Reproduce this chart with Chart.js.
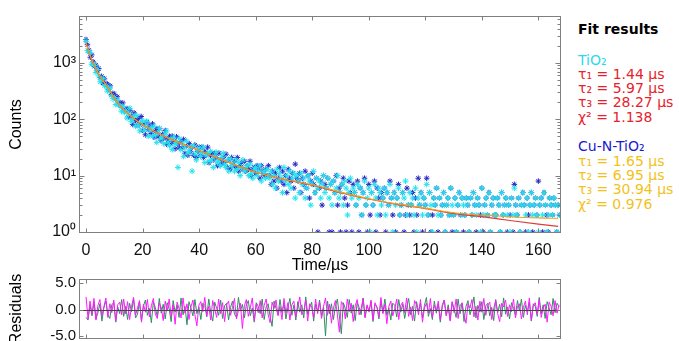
<!DOCTYPE html>
<html><head><meta charset="utf-8">
<script src="https://cdn.jsdelivr.net/npm/chart.js@4.4.1/dist/chart.umd.min.js"></script>
<style>
html,body{margin:0;padding:0;background:#fff;width:679px;height:341px;overflow:hidden;position:relative;}
#main{position:absolute;left:0;top:0;}
#resid{position:absolute;left:0;top:262px;}
.t{position:absolute;left:578px;font-family:"DejaVu Sans",Verdana,sans-serif;font-size:14px;line-height:16px;white-space:nowrap;}
</style></head><body>
<canvas id="main" width="570" height="275"></canvas>
<canvas id="resid" width="570" height="100"></canvas>
<div class="t" style="top:21px;font-weight:bold;color:#000">Fit results</div>
<div class="t" style="top:52px;color:#2fd9ea">TiO₂</div>
<div class="t" style="top:66px;color:#e8202a">τ₁ = 1.44 µs</div>
<div class="t" style="top:80px;color:#e8202a">τ₂ = 5.97 µs</div>
<div class="t" style="top:94px;color:#e8202a">τ₃ = 28.27 µs</div>
<div class="t" style="top:109px;color:#e8202a">χ² = 1.138</div>
<div class="t" style="top:138px;color:#1a1acc">Cu-N-TiO₂</div>
<div class="t" style="top:153px;color:#f2c21b">τ₁ = 1.65 µs</div>
<div class="t" style="top:167px;color:#f2c21b">τ₂ = 6.95 µs</div>
<div class="t" style="top:181px;color:#f2c21b">τ₃ = 30.94 µs</div>
<div class="t" style="top:196px;color:#f2c21b">χ² = 0.976</div>
<script>
// ---- data ----
const CHANNEL_US = 0.5;   // time per channel of the decay histograms
const tio2Counts = [
2420,1660,1545,1495,946,940,900,676,762,585,462,520,524,395,390,317,360,357,266,232,242,183,220,180,173,139,170,132,144,105,
124,157,92,99,116,76,116,78,62,88,94,64,76,92,50,65,72,50,75,53,39,58,69,45,49,37,54,62,39,34,45,29,48,36,38,14,45,29,38,22,32,41,25,27,32,12,34,24,19,28,
31,22,26,32,17,23,25,18,27,19,14,22,26,17,19,15,21,25,16,14,19,12,20,15,16,12,19,13,17,10,14,19,12,13,15,10,16,11,9,13,14,10,12,15,8,11,12,9,13,10,
9,12,7,10,6,13,8,11,9,5,14,8,10,7,12,6,9,11,4,10,
8,5,11,7,9,4,6,10,8,3,7,12,5,9,6,8,4,7,10,5,
6,9,4,7,3,8,5,6,10,4,5,7,3,8,6,2,5,9,4,6,
5,3,7,4,6,2,5,8,3,4,6,1,5,3,7,4,2,6,5,3,
4,6,2,5,3,7,4,1,5,3,4,6,2,3,5,4,8,2,3,5,
3,4,2,6,1,4,3,5,2,4,3,7,2,5,3,1,4,3,6,2,
4,2,3,5,1,3,4,2,6,3,2,4,1,3,5,2,4,3,2,4,
3,1,4,2,5,3,2,4,3,1,6,2,3,4,2,5,1,3,4,2,
2,4,3,1,5,2,3,4,2,3,1,4,2,6,3,2,4,1,3,5,
3,2,4,1,3,5,2,3,4,2,1,3,4,2,5,3,1,2,4,3,
2,4,3,1,3,2];
const cuCounts = [
2600,2100,1680,1260,1390,1045,870,911,725,792,550,578,440,522,420,424,341,392,274,288,278,227,251,187,198,172,195,139,150,155,
109,144,114,81,130,95,78,103,80,112,64,82,53,89,66,76,56,83,48,61,68,49,68,42,54,46,63,36,43,50,37,50,41,30,49,36,31,40,31,44,25,33,23,37,27,32,23,35,21,27,
32,23,32,21,27,23,32,17,23,25,19,25,21,15,25,19,16,21,17,24,14,19,13,21,15,18,14,21,12,15,17,13,18,12,15,13,18,10,13,14,11,15,13,9,15,12,10,13,10,15,
10,7,12,8,11,6,9,14,8,12,7,10,5,13,9,8,11,6,16,9,
8,11,5,9,7,12,6,10,4,8,11,7,5,9,1,6,8,3,10,7,
6,9,1,7,1,8,5,10,3,6,1,7,9,4,1,3,8,5,1,7,
5,3,8,1,6,2,5,9,3,1,7,2,5,3,8,1,6,4,2,5,
4,6,1,5,3,8,4,2,5,1,4,7,2,3,5,1,2,6,3,2,
3,5,1,4,2,9,3,5,1,4,3,9,2,5,1,2,4,3,6,1,
4,2,3,5,1,3,4,2,6,1,2,4,1,3,5,2,4,1,2,4,
3,1,4,2,5,3,1,4,3,2,6,1,3,4,2,5,1,3,4,2,
2,4,3,1,5,2,3,4,1,3,2,4,1,7,3,2,4,1,3,5,
3,1,4,2,3,5,1,3,4,2,8,3,4,1,5,3,2,1,4,3,
2,4,3,1,3,2];
const fitTimes = [0,1,2,3,4,5,6,8,10,12,14,16,18,20,25,30,35,40,45,50,55,60,70,80,90,100,110,120,130,140,150,160,167];
const tio2Fit = [2300,1550,1150,880,700,570,480,350,235,175,138,112,94,80,58,44,35,28,22,17.5,14,11.5,8.6,6.8,5.0,3.85,3.1,2.6,2.14,1.87,1.6,1.38,1.26];
const cuFit   = [2300,1550,1150,880,700,570,480,350,235,175,138,112,94,80,58,44,35,28,22,17.5,14,11.5,8.6,6.9,5.1,3.9,3.15,2.65,2.2,2.0,1.87,1.78,1.75];
const RESID_STEP_US = 0.7;
const tio2Resid = [
2.4,-1.8,1.6,-0.9,2.1,-2.0,0.8,1.9,-1.2,0.5,2.2,-1.5,1.1,-0.6,1.8,-2.2,0.9,1.4,-1.0,2.0,
-0.8,1.5,-1.9,0.6,2.3,-1.1,0.3,1.7,-2.4,1.0,-0.5,1.9,-1.4,0.7,2.1,-0.9,-1.7,1.2,0.4,-2.1,
1.6,-0.3,2.0,-1.3,0.9,-2.8,1.4,0.2,-1.6,2.2,-0.7,1.1,-1.9,0.5,1.8,-1.0,-3.1,0.8,1.5,-0.4,
2.3,-1.2,0.6,-2.0,1.7,0.1,-1.5,2.0,-0.8,1.3,-2.3,0.9,1.6,-1.1,0.4,2.1,-1.8,-0.2,1.2,-3.6,
0.7,1.9,-1.3,0.3,2.2,-2.1,1.0,-0.6,1.7,-1.6,0.8,2.0,-0.9,-2.5,1.4,0.2,1.8,-1.2,0.6,-1.9,
2.1,-0.7,1.3,-2.0,0.9,1.6,-1.4,0.4,2.4,-1.0,-0.3,1.8,-2.2,1.1,0.5,-1.5,2.0,-0.8,1.4,-1.7,
0.6,2.2,-1.1,1.0,-2.6,0.3,1.7,-0.9,-4.3,1.5,0.8,-1.8,2.0,-0.4,1.2,-2.3,0.7,1.9,-1.0,0.2,
2.1,-1.6,0.9,-0.5,1.8,-2.0,1.3,0.4,-1.4,2.3,-0.8,1.0,-2.7,0.6,1.6,-1.2,0.2,2.0,-1.9,0.8,
1.4,-0.6,2.2,-1.3,0.5,-2.1,1.7,0.9,-1.0,1.9,-2.4,0.3,1.2,-0.7,2.1,-1.5,0.8,-0.2,1.6,-2.0,
0.9,1.8,-1.2,0.4,-2.2,1.5,-0.6,2.0,-1.7,0.7,1.3,-0.9,-2.6,1.1,0.3,1.9,-1.4,0.6,-2.0,1.6,
-0.5,2.1,-1.1,0.8,1.4,-1.9,0.2,1.7,-0.8,-2.3,1.2,0.5,1.8,-1.3,0.9,-0.4,2.0,-1.6,0.6,1.1,
-1.8,0.4,1.6,-1.0,2.2,-2.1,0.7,1.3,-0.9,1.9,-1.5,0.3,1.0,-2.4,1.4,0.6,-1.2,1.7,-0.7,0.9];
const cuResid = [
-1.5,-2.0,0.8,-1.2,1.4,-1.8,-0.6,1.1,-2.2,0.3,1.6,-1.0,-1.7,0.9,1.3,-2.4,0.5,-0.8,1.9,-1.3,
0.6,-1.9,1.2,-0.4,2.0,-1.6,-0.9,1.5,-2.1,0.7,1.8,-1.1,0.2,-2.5,1.4,0.4,-1.4,2.1,-0.7,1.0,
-1.8,1.3,0.1,-2.3,1.7,-0.5,0.9,-1.5,2.2,-1.0,0.6,-2.9,1.5,0.3,-1.2,1.9,-0.8,0.5,-1.9,1.2,
0.8,-1.4,2.0,-0.6,-2.2,1.4,0.2,-1.1,1.8,-1.7,0.7,1.2,-2.0,0.4,1.6,-0.9,-1.5,2.3,-0.3,1.0,
-1.6,0.9,1.7,-1.2,0.3,-2.4,1.3,0.6,-0.8,2.0,-1.9,0.5,1.1,-1.3,-3.2,1.6,0.2,-1.0,1.9,-0.6,
1.2,-1.8,0.4,2.1,-1.1,0.8,-2.0,1.5,-0.5,0.9,-1.6,2.4,-0.9,0.3,1.4,-2.2,1.0,-0.4,1.8,-1.3,
0.5,-5.0,1.6,-0.8,1.1,-1.9,0.6,2.0,-1.2,-4.6,1.3,0.2,-1.5,1.9,-0.7,0.9,-2.1,1.4,0.4,-1.0,
2.2,-1.4,0.7,-0.3,1.5,-2.3,1.0,0.5,-1.8,1.7,-0.6,2.0,-1.1,0.3,-2.0,1.2,0.8,-1.4,1.9,-0.5,
1.0,-1.7,0.4,2.1,-1.0,0.6,-2.2,1.5,-0.4,1.2,-1.6,0.8,2.3,-1.3,0.2,-1.9,1.6,-0.7,1.1,-2.4,
0.5,1.8,-1.1,0.9,-2.0,1.4,0.1,-1.5,2.0,-0.8,1.2,-2.3,0.6,1.7,-1.0,0.3,2.4,-1.6,0.8,-0.5,
1.5,-1.9,0.7,1.2,-1.2,0.4,-2.1,1.9,-0.6,1.0,-1.4,2.2,-0.9,0.5,-1.8,1.3,0.2,-1.1,1.7,-0.3,
2.0,-1.5,0.8,-0.4,1.4,-2.2,1.1,0.6,-1.3,2.3,-0.8,0.9,-1.7,1.5,0.3,-1.0,2.1,-0.6,1.2,0.5];
const xTicks = [0,20,40,60,80,100,120,140,160];
const yTicks = [1,10,100,1000];
const yTickLabels = ['10⁰','10¹','10²','10³'];
const residTicks = [-5,0,5];

// ---- styling ----
const CYAN='#22e3ee', BLUE='#2626c4', RED='#e03a3a', ORANGE='#f0a11e';
const FRAME='#7f7f7f', TXT='#111';
const FONT='"Liberation Sans", Arial, sans-serif';
Chart.defaults.font.family = FONT;

const series = (arr, step) => arr.map((v,i)=>({x:i*step, y:v}));
const pairs = (xs, ys) => xs.map((x,i)=>({x:x, y:ys[i]}));

function framePlugin(logMinor, yMajors, zeroLine){
  return {id:'frame', afterDatasetsDraw(chart){
    const ctx=chart.ctx, a=chart.chartArea, xs=chart.scales.x, ys=chart.scales.y;
    const L=Math.round(a.left)+0.5, R=Math.round(a.right)-0.5, T=Math.round(a.top)+0.5, B=Math.round(a.bottom)-0.5;
    ctx.save();
    if(zeroLine){
      const py=Math.round(ys.getPixelForValue(0))+0.5;
      ctx.strokeStyle='#444'; ctx.lineWidth=1;
      ctx.beginPath(); ctx.moveTo(L,py); ctx.lineTo(R,py); ctx.stroke();
    }
    ctx.strokeStyle=FRAME; ctx.lineWidth=1;
    ctx.strokeRect(L,T,R-L,B-T);
    ctx.beginPath();
    xTicks.forEach(v=>{const px=Math.round(xs.getPixelForValue(v))+0.5;
      ctx.moveTo(px,T); ctx.lineTo(px,T+4); ctx.moveTo(px,B); ctx.lineTo(px,B-4);});
    if(logMinor){
      yTicks.forEach(d=>{for(let m=1;m<=9;m++){const v=d*m; if(v<ys.min||v>ys.max) continue;
        const py=Math.round(ys.getPixelForValue(v))+0.5, len=m===1?5:3;
        ctx.moveTo(L,py); ctx.lineTo(L+len,py); ctx.moveTo(R,py); ctx.lineTo(R-len,py);}});
    } else {
      yMajors.forEach(v=>{const py=Math.round(ys.getPixelForValue(v))+0.5;
        ctx.moveTo(L,py); ctx.lineTo(L+4,py); ctx.moveTo(R,py); ctx.lineTo(R-4,py);});
    }
    ctx.stroke(); ctx.restore();
  }};
}

new Chart(document.getElementById('main'), {
  type:'scatter',
  data:{datasets:[
    {label:'TiO₂ fit', data:pairs(fitTimes,tio2Fit), showLine:true, borderColor:RED, borderWidth:1.2, pointRadius:0, cubicInterpolationMode:'monotone', order:1},
    {label:'Cu-N-TiO₂ fit', data:pairs(fitTimes,cuFit), showLine:true, borderColor:ORANGE, borderWidth:1.1, pointRadius:0, cubicInterpolationMode:'monotone', order:0},
    {label:'TiO₂', data:series(tio2Counts,CHANNEL_US), pointStyle:'star', pointRadius:3, borderColor:CYAN, backgroundColor:CYAN, borderWidth:1, order:2},
    {label:'Cu-N-TiO₂', data:series(cuCounts,CHANNEL_US), pointStyle:'star', pointRadius:2.8, borderColor:BLUE, backgroundColor:BLUE, borderWidth:1, order:3}
  ]},
  options:{responsive:false, animation:false, devicePixelRatio:1, events:[],
    layout:{padding:{left:0,right:9,top:16,bottom:0}},
    plugins:{legend:{display:false}, tooltip:{enabled:false}},
    scales:{
      x:{type:'linear', min:-2.5, max:168,
        afterBuildTicks:s=>{s.ticks=xTicks.map(v=>({value:v}));},
        afterFit:s=>{s.height=42;},
        grid:{display:false, drawTicks:false}, border:{display:false},
        ticks:{padding:8, color:TXT, font:{size:16}, maxRotation:0, autoSkip:false},
        title:{display:true, text:'Time/µs', color:'#000', font:{size:16}, padding:{top:0,bottom:0}}},
      y:{type:'logarithmic', min:0.96, max:6800,
        afterBuildTicks:s=>{s.ticks=yTicks.map(v=>({value:v}));},
        afterFit:s=>{s.width=79;},
        grid:{display:false, drawTicks:false}, border:{display:false},
        ticks:{padding:3, color:TXT, font:{size:16}, callback:(v,i)=>yTickLabels[i]},
        title:{display:true, text:'Counts', color:'#000', font:{size:16}, padding:{top:7,bottom:0}}}
    }},
  plugins:[framePlugin(true)]
});

new Chart(document.getElementById('resid'), {
  type:'scatter',
  data:{datasets:[
    {label:'TiO₂ residuals', data:series(tio2Resid,RESID_STEP_US), showLine:true, borderColor:'#ff1aff', borderWidth:1, pointRadius:0, order:0},
    {label:'Cu-N-TiO₂ residuals', data:series(cuResid,RESID_STEP_US), showLine:true, borderColor:'#2f8f5f', borderWidth:1, pointRadius:0, order:1}
  ]},
  options:{responsive:false, animation:false, devicePixelRatio:1, events:[],
    layout:{padding:{left:0,right:9,top:17,bottom:0}},
    plugins:{legend:{display:false}, tooltip:{enabled:false}},
    scales:{
      x:{type:'linear', min:-2.5, max:168,
        afterBuildTicks:s=>{s.ticks=xTicks.map(v=>({value:v}));},
        afterFit:s=>{s.height=23;},
        grid:{display:false, drawTicks:false}, border:{display:false}, ticks:{display:false}},
      y:{type:'linear', min:-5.6, max:5.8,
        afterBuildTicks:s=>{s.ticks=residTicks.map(v=>({value:v}));},
        afterFit:s=>{s.width=79;},
        grid:{display:false, drawTicks:false}, border:{display:false},
        ticks:{padding:3, color:TXT, font:{size:15}, callback:v=>v.toFixed(1)},
        title:{display:true, text:'Residuals', color:'#000', font:{size:16}, padding:{top:7,bottom:0}}}
    }},
  plugins:[framePlugin(false, residTicks, true)]
});
</script>
</body></html>
